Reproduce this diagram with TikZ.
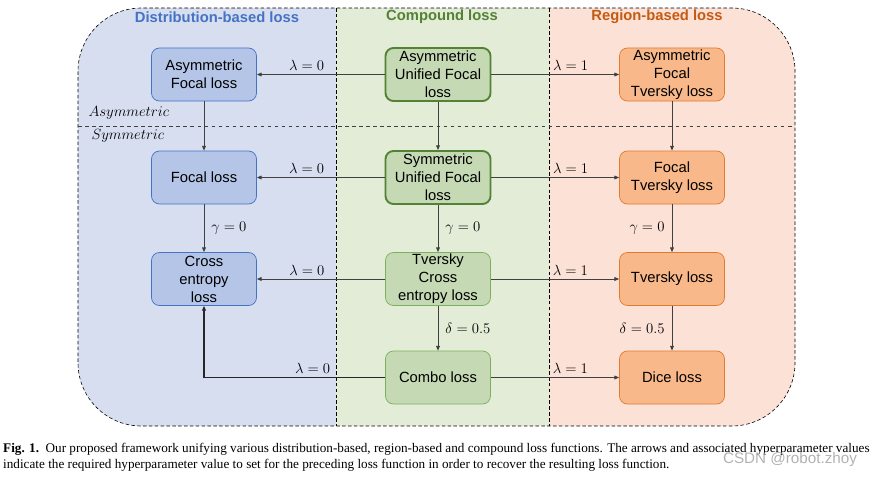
\RequirePackage{fix-cm}
\documentclass[tikz,border=0pt]{standalone}
\usepackage{amssymb,amsmath}
\usepackage{fontspec}
\setmainfont{Liberation Serif}
\setsansfont{Liberation Sans}
\usepackage{xcolor}
\usetikzlibrary{arrows.meta}

\definecolor{bgdist}{HTML}{D7DEF0}
\definecolor{bgcomp}{HTML}{E2ECD7}
\definecolor{bgreg}{HTML}{FCE1D7}
\definecolor{distfill}{HTML}{B4C5E7}
\definecolor{distline}{HTML}{4472C4}
\definecolor{compfill}{HTML}{C5D9B4}
\definecolor{compline}{HTML}{7DAF5E}
\definecolor{compdark}{HTML}{548235}
\definecolor{regfill}{HTML}{F8B88A}
\definecolor{regline}{HTML}{E07A2F}
\definecolor{regtitle}{HTML}{C55A11}
\definecolor{arrgray}{HTML}{404040}

\begin{document}
\begin{tikzpicture}[x=0.03cm,y=-0.03cm,
    box/.style={rounded corners=0.24cm, minimum width=3.15cm, minimum height=1.59cm,
      align=center, inner xsep=1pt, inner ysep=0pt,
      font=\sffamily\fontsize{12.6}{15.3}\selectfont},
    distbox/.style={box, fill=distfill, draw=distline, line width=0.6pt},
    compbox/.style={box, fill=compfill, draw=compline, line width=0.6pt},
    unibox/.style={box, fill=compfill, draw=compdark, line width=1.6pt},
    regbox/.style={box, fill=regfill, draw=regline, line width=0.6pt},
    arr/.style={-{Triangle[length=4pt,width=3.2pt]}, draw=arrgray, line width=0.7pt},
    lab/.style={font=\fontsize{12.6}{15}\selectfont, inner sep=2pt},
    title/.style={font=\sffamily\bfseries\fontsize{12.6}{15}\selectfont}]

  \useasboundingbox (0,0) rectangle (872,477);

  \begin{scope}
    \clip[rounded corners=1.9cm] (78,8) rectangle (795,426);
    \fill[bgdist] (78,8) rectangle (336,426);
    \fill[bgcomp] (336,8) rectangle (549,426);
    \fill[bgreg] (549,8) rectangle (795,426);
  \end{scope}
  \draw[densely dashed, line width=0.5pt, rounded corners=1.9cm] (78,8) rectangle (795,426);
  \draw[densely dashed, line width=0.5pt] (336,8) -- (336,426);
  \draw[densely dashed, line width=0.5pt] (549,8) -- (549,426);
  \draw[dashed, line width=0.8pt, draw=arrgray] (78,126) -- (795,126);

  \node[title, text=distline] (tdist) at (217,17) {Distribution-based loss};
  \node[title, text=compdark] (tcomp) at (442,17) {Compound loss};
  \node[title, text=regtitle] (treg) at (657,17) {Region-based loss};

  \node[lab, anchor=west] (asym) at (86,113) {$Asymmetric$};
  \node[lab, anchor=west] (sym) at (89,136) {$Symmetric$};

  \node[distbox] (afl) at (204,74.5) {Asymmetric\\Focal loss};
  \node[distbox] (fl) at (204,177.5) {Focal loss};
  \node[distbox] (ce) at (204,279) {Cross\\entropy\\loss};

  \node[unibox] (aufl) at (438,74.5) {Asymmetric\\Unified Focal\\loss};
  \node[unibox] (sufl) at (438,177.5) {Symmetric\\Unified Focal\\loss};
  \node[compbox] (tce) at (438,279) {Tversky\\Cross\\entropy loss};
  \node[compbox] (combo) at (438,377.5) {Combo loss};

  \node[regbox] (aftl) at (672,74.5) {Asymmetric\\Focal\\Tversky loss};
  \node[regbox] (ftl) at (672,177.5) {Focal\\Tversky loss};
  \node[regbox] (tl) at (672,279) {Tversky loss};
  \node[regbox] (dice) at (672,377.5) {Dice loss};

  \draw[arr] (aufl) -- node[lab, pos=0.61, above=1pt] {$\lambda=0$} (afl);
  \draw[arr] (sufl) -- node[lab, pos=0.61, above=1pt] {$\lambda=0$} (fl);
  \draw[arr] (tce) -- node[lab, pos=0.61, above=1pt] {$\lambda=0$} (ce);
  \draw[arr, draw=black!85, line width=0.9pt] (combo.west) -| node[lab, pos=0.2, above=1pt] {$\lambda=0$} (ce.south);

  \draw[arr] (aufl) -- node[lab, pos=0.62, above=1pt] {$\lambda=1$} (aftl);
  \draw[arr] (sufl) -- node[lab, pos=0.62, above=1pt] {$\lambda=1$} (ftl);
  \draw[arr] (tce) -- node[lab, pos=0.62, above=1pt] {$\lambda=1$} (tl);
  \draw[arr] (combo) -- node[lab, pos=0.62, above=1pt] {$\lambda=1$} (dice);

  \draw[arr] (afl) -- (fl);
  \draw[arr] (fl) -- node[lab, right=4pt] {$\gamma=0$} (ce);
  \draw[arr] (aufl) -- (sufl);
  \draw[arr] (sufl) -- node[lab, right=4pt] {$\gamma=0$} (tce);
  \draw[arr] (tce) -- node[lab, right=4pt] {$\delta=0.5$} (combo);
  \draw[arr] (aftl) -- (ftl);
  \draw[arr] (ftl) -- node[lab, left=4pt] {$\gamma=0$} (tl);
  \draw[arr] (tl) -- node[lab, left=4pt] {$\delta=0.5$} (dice);

  \node[anchor=west, align=left, inner sep=0pt, font=\fontsize{11.25}{13.6}\selectfont] (caption) at (3,457)
    {\textbf{Fig. 1.}\ \ Our proposed framework unifying various distribution-based, region-based and compound loss functions. The arrows and associated hyperparameter values\\
     indicate the required hyperparameter value to set for the preceding loss function in order to recover the resulting loss function.};
  \node[font=\sffamily\fontsize{13}{15}\selectfont, text=black!30] (mark) at (790,460) {CSDN @robot.zhoy};

\end{tikzpicture}
\end{document}
